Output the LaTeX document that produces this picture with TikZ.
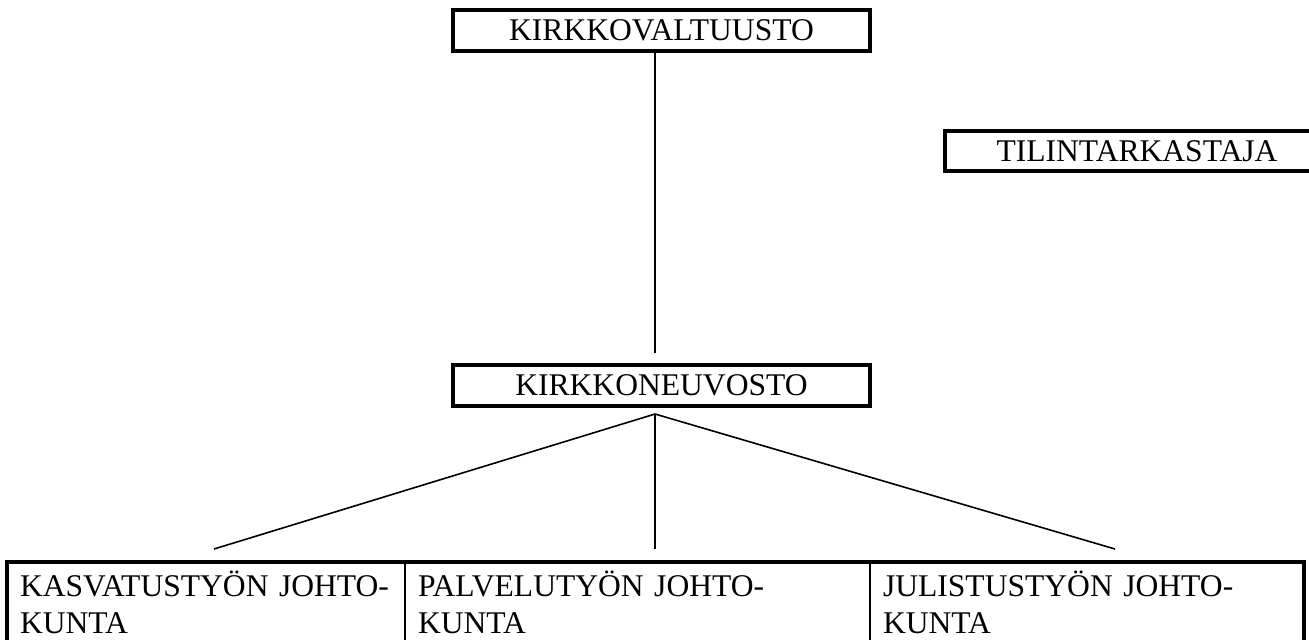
\documentclass[tikz,border=0pt,12pt]{standalone}
\usepackage{fontspec}
\setmainfont{Liberation Serif}
\usetikzlibrary{positioning}
\newcommand\pxu{0.38pt}

\tikzset{
	orgbox/.style={draw, line width=4*\pxu, outer sep=0pt, inner sep=0pt,
		minimum height=41*\pxu},
	cellbox/.style={draw, line width=1.6*\pxu, outer sep=0pt, align=left,
		font=\fontsize{12}{14.2}\selectfont, text depth=70*\pxu,
		inner xsep=13*\pxu, inner ysep=9*\pxu},
	frame/.style={line width=4*\pxu},
	link/.style={line width=1.6*\pxu}
}

\begin{document}
\begin{tikzpicture}[x=\pxu, y=-\pxu]
	\useasboundingbox (0,0) rectangle (1309,639);
	\clip (0,0) rectangle (1309,639);
	
	\node[orgbox, minimum width=417*\pxu] (valtuusto) at (661.5,30.5) {KIRKKOVALTUUSTO};
	\node[orgbox, minimum width=417*\pxu, below=314*\pxu of valtuusto] (neuvosto) {KIRKKONEUVOSTO};
	\node[orgbox, minimum width=384*\pxu, minimum height=40*\pxu] (tilintarkastaja) at (1137,151) {TILINTARKASTAJA};
	
	\node[cellbox, anchor=north west, text width=372*\pxu] (kasvatus) at (7,562)
		{\mbox{KASVATUSTYÖN JOHTO-}\\KUNTA};
	\node[cellbox, right=0pt of kasvatus, text width=439*\pxu] (palvelu)
		{\mbox{PALVELUTYÖN JOHTO-}\\KUNTA};
	\node[cellbox, right=0pt of palvelu, text width=408*\pxu] (julistus)
		{\mbox{JULISTUSTYÖN JOHTO-}\\KUNTA};
	\draw[frame] (kasvatus.south west) |- (julistus.north east) -- (julistus.south east);
	
	\coordinate (hub) at (655,414);
	\coordinate (stem) at (655,353);
	\path (kasvatus.north) ++(8,-13) coordinate (k1);
	\path (palvelu.north) ++(18,-13) coordinate (k2);
	\path (julistus.north) ++(28,-13) coordinate (k3);
	
	\draw[link] (valtuusto.south -| stem) -- (stem);
	\draw[link] (hub) -- (k1);
	\draw[link] (hub) -- (k2 -| hub);
	\draw[link] (hub) -- (k3);
\end{tikzpicture}
\end{document}
